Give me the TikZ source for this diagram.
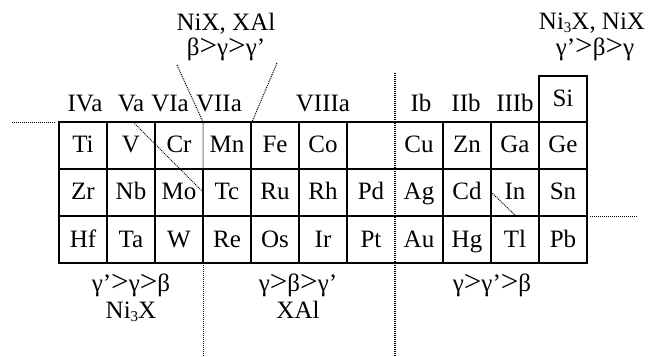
\documentclass[tikz,border=0pt]{standalone}
\usepackage{fontspec}
\setmainfont{Liberation Serif}
% small lowered numeral for chemical formulas such as Ni3X
\newcommand\chemsub[1]{\raisebox{-0.12em}{\fontsize{15pt}{15pt}\selectfont #1}}
% a larger "greater than" sign for the stability orderings
\newcommand\bigger{\smash{\scalebox{1.25}[1.2]{>}}}
\tikzset{
  gridline/.style={line width=1.4pt},
  outerline/.style={line width=1.8pt},
  dotline/.style={line width=1pt, densely dotted},
  lbl/.style={font=\fontsize{25pt}{28pt}\selectfont, inner sep=0pt, anchor=base},
}
\begin{document}
\begin{tikzpicture}[x=1pt,y=-1pt]
\useasboundingbox (0,0) rectangle (650,356);

% table corners
\coordinate (tl) at (59,122);
\coordinate (br) at (587,263);

% horizontal rules of the table
\foreach \yy in {169,216}
  \draw[gridline] (59,\yy) -- (587,\yy);
% vertical rules of the table (column boundaries every 48pt)
\foreach \xx in {107,155,251,299,347,443,491,539}
  \draw[gridline] (\xx,122) -- (\xx,263);
\draw[gridline] (203,169) -- (203,263);
\draw[outerline] (tl) rectangle (br);
% the Si cell above Ge
\draw[outerline] (539,122) -- (539,76) -- (587,76) -- (587,122);

% element symbols
\foreach \el [count=\i from 0] in {Ti,V,Cr,Mn,Fe,Co,{},Cu,Zn,Ga,Ge}
  \node[lbl] (ra\i) at (83+48*\i,152) {\el};
\foreach \el [count=\i from 0] in {Zr,Nb,Mo,Tc,Ru,Rh,Pd,Ag,Cd,In,Sn}
  \node[lbl] (rb\i) at (83+48*\i,199.5) {\el};
\foreach \el [count=\i from 0] in {Hf,Ta,W,Re,Os,Ir,Pt,Au,Hg,Tl,Pb}
  \node[lbl] (rc\i) at (83+48*\i,247) {\el};
\node[lbl] (si) at (563,106) {Si};

% group headings
\node[lbl] (hIVa)   at (85,111)  {IVa};
\node[lbl] (hVa)    at (131,111) {Va};
\node[lbl] (hVIa)   at (170,111) {VIa};
\node[lbl] (hVIIa)  at (219,111) {VIIa};
\node[lbl] (hVIIIa) at (323,111) {VIIIa};
\node[lbl] (hIb)    at (421,111) {Ib};
\node[lbl] (hIIb)   at (466,111) {IIb};
\node[lbl] (hIIIb)  at (515,111) {IIIb};

% region labels
\node[lbl] (topmidA) at (226,30) {NiX, XAl};
\node[lbl] (topmidB) at (226,55) {β\bigger γ\bigger γ’};
\node[lbl] (toprtA)  at (592,29) {Ni\chemsub{3}X, NiX};
\node[lbl] (toprtB)  at (595,55) {γ’\bigger β\bigger γ};
\node[lbl] (botlA)   at (131,291) {γ’\bigger γ\bigger β};
\node[lbl] (botlB)   at (131,318) {Ni\chemsub{3}X};
\node[lbl] (botmA)   at (298,291) {γ\bigger β\bigger γ’};
\node[lbl] (botmB)   at (298,318) {XAl};
\node[lbl] (botrA)   at (492,291) {γ\bigger γ’\bigger β};

% dotted region boundaries
\draw[dotline] (12,122) -- (55,122);
\draw[dotline] (590,216) -- (637,216);
\draw[dotline] (133,122) -- (203,192);
\draw[dotline] (491,192) -- (516,216);
\draw[dotline] (177,65) -- (203,122) -- (203,169) -- (251,169);
\draw[dotline] (277,63) -- (252,122);
\draw[dotline, line width=1.3pt] (395,73) -- (395,356);
\draw[dotline] (203,263) -- (203,356);
\end{tikzpicture}
\end{document}
